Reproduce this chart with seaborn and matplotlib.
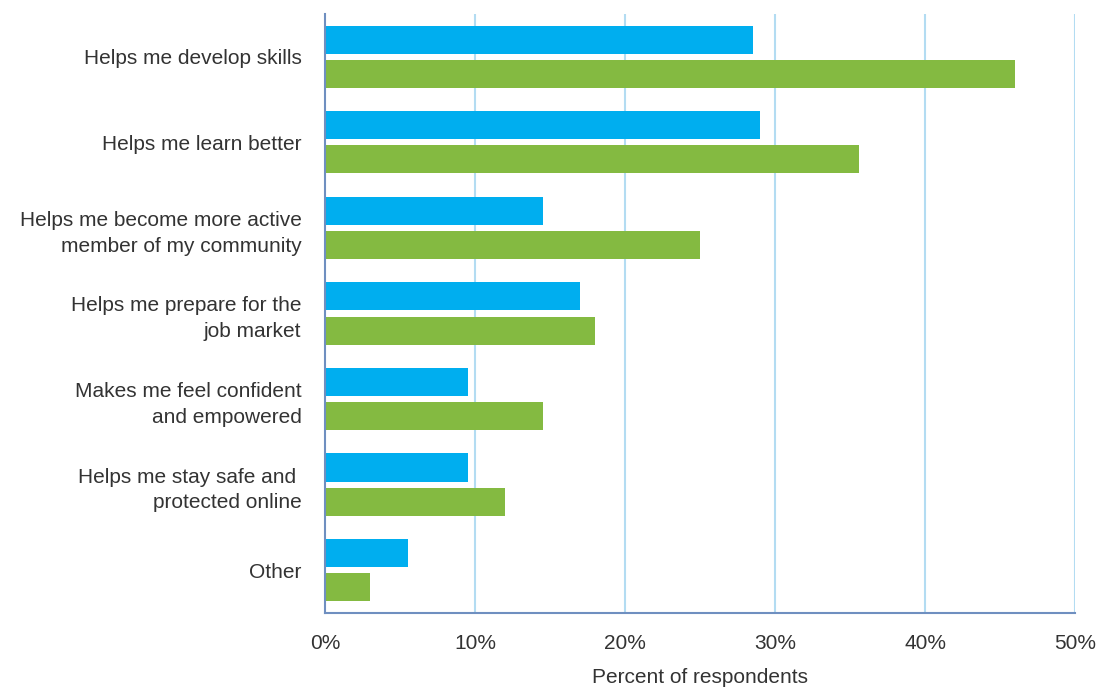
import matplotlib
matplotlib.use("Agg")
import matplotlib.pyplot as plt
import seaborn as sns
import pandas as pd
from matplotlib.ticker import FuncFormatter

categories = [
    "Helps me develop skills",
    "Helps me learn better",
    "Helps me become more active\nmember of my community",
    "Helps me prepare for the\njob market",
    "Makes me feel confident\nand empowered",
    "Helps me stay safe and \nprotected online",
    "Other",
]
series_names = ["Group A", "Group B"]
values_a = [28.5, 29.0, 14.5, 17.0, 9.5, 9.5, 5.5]
values_b = [46.0, 35.6, 25.0, 18.0, 14.5, 12.0, 3.0]
x_ticks = [0, 10, 20, 30, 40, 50]

colors = ["#00AEEF", "#84BA41"]
text_color = "#333333"
grid_color = "#B3DCF2"
spine_color = "#6F8FC0"

df = pd.DataFrame({
    "category": categories * 2,
    "series": [series_names[0]] * len(categories) + [series_names[1]] * len(categories),
    "value": values_a + values_b,
})

sns.set_theme(style="white")
plt.rcParams["font.family"] = ["Liberation Sans", "DejaVu Sans"]

fig = plt.figure(figsize=(11.13, 6.91), dpi=100)
ax = fig.add_axes([0.292, 0.1129, 0.674, 0.867])

sns.barplot(
    data=df, y="category", x="value", hue="series",
    order=categories, hue_order=series_names,
    palette=colors, orient="h", width=0.8, gap=0.18,
    saturation=1, legend=False, ax=ax, errorbar=None,
    linewidth=0, edgecolor="none",
)

ax.set_xlim(0, 50)
ax.set_ylim(len(categories) - 0.5, -0.5)
ax.set_xticks(x_ticks)
ax.xaxis.set_major_formatter(FuncFormatter(lambda v, _: f"{v:.0f}%"))

# vertical gridlines behind the bars
for t in x_ticks[1:]:
    ax.axvline(t, color=grid_color, lw=1.5, zorder=0)
ax.set_axisbelow(True)

for side in ["top", "right"]:
    ax.spines[side].set_visible(False)
for side in ["left", "bottom"]:
    ax.spines[side].set_color(spine_color)
    ax.spines[side].set_linewidth(1.5)

ax.tick_params(axis="both", length=0, colors=text_color, labelsize=15)
ax.tick_params(axis="y", pad=17)
ax.tick_params(axis="x", pad=15)
for lbl in ax.get_yticklabels():
    lbl.set_linespacing(1.45)

ax.set_ylabel("")
ax.set_xlabel("Percent of respondents", fontsize=15, color=text_color, labelpad=11)

fig.savefig("out.png", dpi=100, facecolor="white")
